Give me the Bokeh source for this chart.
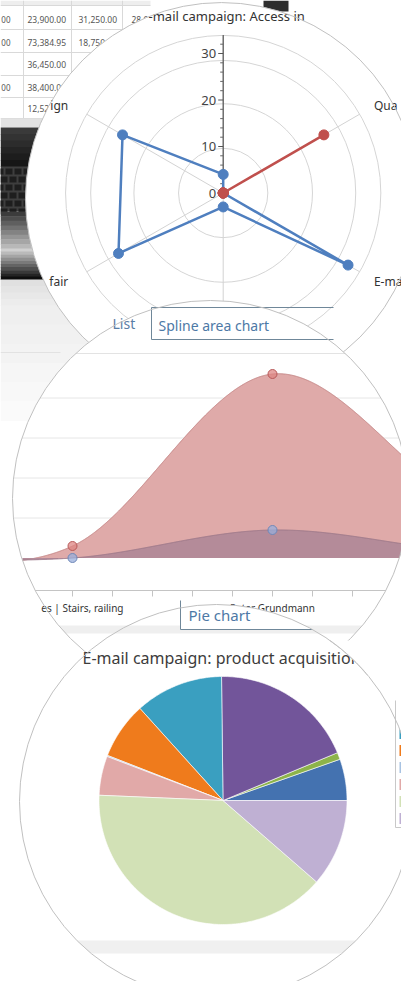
import numpy as np
from bokeh.plotting import figure
from bokeh.models import Range1d
from bokeh.core.properties import value
from bokeh.embed import file_html
from bokeh.resources import INLINE

FONT = value("Noto Sans")

# ---------------- data ----------------
# Radar chart "E-mail campaign: Access in..." (axes clockwise from top; labels as clipped by the lens)
radar_labels = ["", "Qua", "E-ma", "", "fair", "ign"]
radar_blue = [4, 0, 31, 3, 26, 25]
radar_red = [0, 25, 0, 0, 0, 0]
radar_ticks = [0, 10, 20, 30]
radar_rings = [9.6, 19.2, 28.5, 33.9]

# Spline area chart
spline_labels = ["", "es | Stairs, railing", "Peter Grundmann", "", ""]
spline_red = [0, 3, 46, 13, 7]
spline_blue = [0, 0, 7, 1.5, 1]
spline_grid = [10, 20, 30, 40]

# Pie chart "E-mail campaign: product acquisition" (shares in %, anticlockwise from 3 o'clock)
pie_values = [5.4, 0.9, 18.9, 11.5, 7.4, 0.15, 5.1, 39.3, 11.4]
pie_colors = ["#4472b0", "#8db34a", "#72559a", "#3a9fc0", "#ef7b1c",
              "#a9c3e2", "#e1a9a8", "#d2e1b6", "#bfb0d3"]
legend_colors = pie_colors[3:]

# background screenshot table
table_col_a = ["00", "00", "", "00", ""]
table_col_b = ["23,900.00", "73,384.95", "36,450.00", "38,400.00", "12,525.00"]
table_col_c = ["31,250.00", "18,750.00", "", "", ""]
table_col_d = ["28,000.00", "", "", "", ""]

# ---------------- geometry ----------------
C1 = (221.0, 198.0, 196.0)
C2 = (210.0, 498.0, 198.0)
C3 = (216.0, 801.0, 197.0)

p = figure(width=401, height=981, x_range=Range1d(0, 401), y_range=Range1d(981, 0),
           output_backend="svg", toolbar_location=None, min_border=0)
p.axis.visible = False
p.grid.visible = False
p.outline_line_color = None
p.background_fill_color = "white"
p.border_fill_color = "white"


def chord(c, y):
    d = c[2] ** 2 - (y - c[1]) ** 2
    if d <= 0:
        return None
    h = d ** 0.5
    return c[0] - h, c[0] + h


def clip_rect(c, x0, x1, y0, y1, n=40):
    L, R = [], []
    for y in np.linspace(y0, y1, n):
        ch = chord(c, y)
        if ch is None:
            continue
        a, b = max(x0, ch[0]), min(x1, ch[1])
        if a < b:
            L.append((a, y)); R.append((b, y))
    if not L:
        return None
    pts = R + L[::-1]
    return [q[0] for q in pts], [q[1] for q in pts]


def rect(x0, x1, y0, y1, color):
    p.quad(left=[x0], right=[x1], top=[y0], bottom=[y1], fill_color=color, line_color=None)


def crect(c, x0, x1, y0, y1, color, line=None):
    r = clip_rect(c, x0, x1, y0, y1)
    if r:
        p.patch(r[0], r[1], fill_color=color, line_color=line)


def hline(c, y, x0, x1, color, w=1):
    ch = chord(c, y)
    if ch is None:
        return
    a, b = max(x0, ch[0]), min(x1, ch[1])
    if a < b:
        p.line([a, b], [y, y], line_color=color, line_width=w)


def txt(x, y, s, size, color, align="left"):
    p.text(x=[x], y=[y], text=[s], text_font=FONT, text_font_size=f"{size}px",
           text_color=color, text_align=align, text_baseline="middle")


def mix(c1, c2, t):
    a = [int(c1[i:i + 2], 16) for i in (1, 3, 5)]
    b = [int(c2[i:i + 2], 16) for i in (1, 3, 5)]
    return "#%02x%02x%02x" % tuple(int(round(a[k] + (b[k] - a[k]) * t)) for k in range(3))


def grad(x0, x1, y0, y1, ca, cb, n=12):
    ys = np.linspace(y0, y1, n + 1)
    for i in range(n):
        rect(x0, x1, ys[i], ys[i + 1] + 0.5, mix(ca, cb, i / max(n - 1, 1)))


# ---------------- background screenshot ----------------
rect(0, 150, 0, 5, "#eeeeee")
for yy in [5, 29, 52, 75, 97, 118]:
    p.line([0, 150], [yy, yy], line_color="#d9d9d9", line_width=1)
for xx in [23, 71, 122]:
    p.line([xx, xx], [0, 118], line_color="#d9d9d9", line_width=1)
row_y = [19, 42, 64, 87, 108]
for i, yy in enumerate(row_y):
    if table_col_a[i]:
        txt(10, yy, table_col_a[i], 8, "#555555", "right")
    if table_col_b[i]:
        txt(27, yy, table_col_b[i], 8.5, "#555555")
    if table_col_c[i]:
        txt(78, yy, table_col_c[i], 8.5, "#555555")
    if table_col_d[i]:
        txt(131, yy, table_col_d[i], 8.5, "#555555")
rect(263, 288, 0, 11, "#2e2e2e")

# laptop photo on the left
rect(0, 130, 118, 127, "#e2e2e2")
grad(0, 130, 127, 166, "#3a3a3a", "#161616", 6)
rect(0, 130, 166, 211, "#3e3e3e")
for k, ky in enumerate(range(168, 209, 8)):
    for kx in range(-4 + (k % 2) * 4, 130, 9):
        rect(kx, kx + 7, ky, ky + 6, "#1e1e1e")
grad(0, 130, 211, 248, "#3c3c3c", "#b8b8b8", 8)
grad(0, 130, 248, 279, "#d0d0d0", "#0e0e0e", 10)
grad(0, 130, 279, 305, "#e0e0e0", "#ececec", 4)
grad(0, 160, 305, 420, "#efefef", "#fafafa", 6)
p.line([0, 60], [352, 352], line_color="#e2e2e2")

# ---------------- lens 1 : radar ----------------
p.circle(x=[C1[0]], y=[C1[1]], radius=C1[2], fill_color="white", line_color=None)
RCX, RCY, RS = 222.7, 192.5, 4.65
ang = np.radians([90, 30, -30, -90, -150, 150])
p.circle(x=[RCX] * len(radar_rings), y=[RCY] * len(radar_rings),
         radius=[v * RS for v in radar_rings], fill_color=None, line_color="#d5d5d5", line_width=1)
p.segment(x0=[RCX] * 6, y0=[RCY] * 6,
          x1=list(RCX + radar_rings[-1] * RS * np.cos(ang)),
          y1=list(RCY - radar_rings[-1] * RS * np.sin(ang)), line_color="#d3d3d3", line_width=1)
# radial axis
p.line([RCX, RCX], [RCY, RCY - 34 * RS], line_color="#555555", line_width=1.2)
minor = [v for v in range(2, 34, 2) if v % 10]
p.segment(x0=[RCX - 3] * len(minor), y0=[RCY - v * RS for v in minor],
          x1=[RCX] * len(minor), y1=[RCY - v * RS for v in minor], line_color="#666666")
p.segment(x0=[RCX - 5] * 4, y0=[RCY - v * RS for v in radar_ticks],
          x1=[RCX] * 4, y1=[RCY - v * RS for v in radar_ticks], line_color="#555555")
for v in radar_ticks:
    txt(RCX - 7, RCY - v * RS, str(v), 13, "#444444", "right")
# axis labels
for a, lab in zip(ang, radar_labels):
    if not lab:
        continue
    right = np.cos(a) > 0
    lx = RCX + (174 if right else 179) * np.cos(a)
    ly = RCY - 176 * np.sin(a)
    txt(lx, ly, lab, 12, "#333333", "left" if right else "right")
# series
for vals, col in [(radar_blue, "#4f7fbf"), (radar_red, "#c0504d")]:
    xs = list(RCX + np.array(vals) * RS * np.cos(ang))
    ys = list(RCY - np.array(vals) * RS * np.sin(ang))
    p.line(xs + [xs[0]], ys + [ys[0]], line_color=col, line_width=2.5)
    p.circle(x=xs, y=ys, radius=5, fill_color=col, line_color=col)
txt(148, 15, "-mail campaign: Access in", 13, "#333333")
p.circle(x=[C1[0]], y=[C1[1]], radius=C1[2], fill_color=None, line_color="#c0c0c0", line_width=1)

# ---------------- lens 2 : spline area ----------------
p.circle(x=[C2[0]], y=[C2[1]], radius=C2[2], fill_color="white", line_color=None)
SX0, SDX, SY0, SSY = 72.0, 200.0, 557.5, 4.0
xk = np.array([SX0 + SDX * (i - 1) for i in range(len(spline_red))])
VC2 = (C2[1], C2[0], C2[2])  # for vertical chords


def catmull(yk, xs):
    yk = np.asarray(yk, float)
    n = len(yk)
    m = np.zeros(n)
    m[1:-1] = (yk[2:] - yk[:-2]) / 2
    m[0], m[-1] = yk[1] - yk[0], yk[-1] - yk[-2]
    out = []
    for x in xs:
        i = int(min(max((x - xk[0]) // SDX, 0), n - 2))
        t = (x - xk[i]) / SDX
        h00 = 2 * t ** 3 - 3 * t ** 2 + 1
        h10 = t ** 3 - 2 * t ** 2 + t
        h01 = -2 * t ** 3 + 3 * t ** 2
        h11 = t ** 3 - t ** 2
        out.append(h00 * yk[i] + h10 * m[i] + h01 * yk[i + 1] + h11 * m[i + 1])
    return np.array(out)


xs_s = np.arange(0, 430, 1.0)
# tabs
txt(112, 323, "List", 14, "#5a7ea6")
p.line([151, 151, 333], [339, 307, 307], line_color="#6f8799", line_width=1)
p.line([151, 333], [339, 339], line_color="#6f8799", line_width=1)
txt(158, 325, "Spline area chart", 14, "#4d79a6")
hline(C2, 353, 0, 420, "#e3e3e3")
for g in spline_grid:
    hline(C2, SY0 - g * SSY, 0, 420, "#e6e6e6")
for vals, fill, edge in [(spline_red, "#dfaaa9", "#c58686"), (spline_blue, "#b48b99", "#9c7889")]:
    yc = SY0 - catmull(vals, xs_s) * SSY
    U, L, E = [], [], []
    for x, t in zip(xs_s, yc):
        ch = chord(VC2, x)
        if ch is None:
            continue
        top, bot = max(min(t, SY0), ch[0]), min(max(t, SY0), ch[1])
        if top < bot:
            U.append((x, top)); L.append((x, bot))
        if ch[0] < t < ch[1]:
            E.append((x, t))
    pts = U + L[::-1]
    p.patch([q[0] for q in pts], [q[1] for q in pts], fill_color=fill, line_color=None)
    p.line([q[0] for q in E], [q[1] for q in E], line_color=edge, line_width=1)
for vals, fc, lc in [(spline_red, "#dd8583", "#b85a5a"), (spline_blue, "#98aedb", "#7088b8")]:
    mx = [x for x in xk if chord(VC2, x)]
    my = [SY0 - v * SSY for x, v in zip(xk, vals) if chord(VC2, x)]
    p.circle(x=mx, y=my, radius=4.5, fill_color=fc, fill_alpha=0.75, line_color=lc, line_width=1)
hline(C2, 590, 0, 420, "#c4c4c4")
ch593 = chord(C2, 593)
tx = [x for x in np.arange(-8, 420, 40.0) if ch593[0] < x < ch593[1]]
p.segment(x0=tx, y0=[590] * len(tx), x1=tx, y1=[596] * len(tx), line_color="#c4c4c4")
txt(xk[1] + 51, 607, spline_labels[1], 10, "#333333", "right")
txt(xk[2], 607, spline_labels[2], 10, "#333333", "center")
crect(C2, 0, 420, 625, 633, "#efefef")
p.circle(x=[C2[0]], y=[C2[1]], radius=C2[2], fill_color=None, line_color="#c0c0c0", line_width=1)

# ---------------- lens 3 : pie ----------------
p.circle(x=[C3[0]], y=[C3[1]], radius=C3[2], fill_color="white", line_color=None)
crect(C3, 0, 420, 625, 633, "#efefef")
crect(C3, 180, 312, 590, 629, "white", None)
p.line([180, 180, 312], [600, 629, 629], line_color="#6f8799", line_width=1)
txt(188, 614, "Pie chart", 15, "#4d79a6")
txt(82, 657, "E-mail campaign: product acquisition", 16, "#3c3c3c")
PCX, PCY, PR = 222.5, 800.0, 124.0
tot = sum(pie_values)
start = 0.0
wx, wy = [], []
for v in pie_values:
    span = 2 * np.pi * v / tot
    t = np.linspace(start, start + span, max(3, int(span * 60)))
    wx.append([PCX] + list(PCX + PR * np.cos(t)))
    wy.append([PCY] + list(PCY - PR * np.sin(t)))
    start += span
p.patches(wx, wy, fill_color=pie_colors, line_color="white", line_width=0.6)
# legend (clipped by the lens)
ch = chord(C3, 827)
p.line([395, 395, ch[1]], [700, 827, 827], line_color="#c8c8c8", line_width=1)
for i, col in enumerate(legend_colors):
    yc = 733 + 17 * i
    crect(C3, 399, 430, yc - 5.5, yc + 5.5, col)
crect(C3, 0, 420, 940, 953, "#f0f0f0")
p.circle(x=[C3[0]], y=[C3[1]], radius=C3[2], fill_color=None, line_color="#c0c0c0", line_width=1)
# white outside the lens to the right of the pie title
ys_m = np.linspace(640, 675, 20)
mxs = [chord(C3, y)[1] for y in ys_m]
p.patch([420, 420] + mxs[::-1], [640, 675] + list(ys_m[::-1]), fill_color="white", line_color=None)
p.line(mxs, list(ys_m), line_color="#c0c0c0", line_width=1)

open("out.html", "w").write(file_html(p, INLINE))
